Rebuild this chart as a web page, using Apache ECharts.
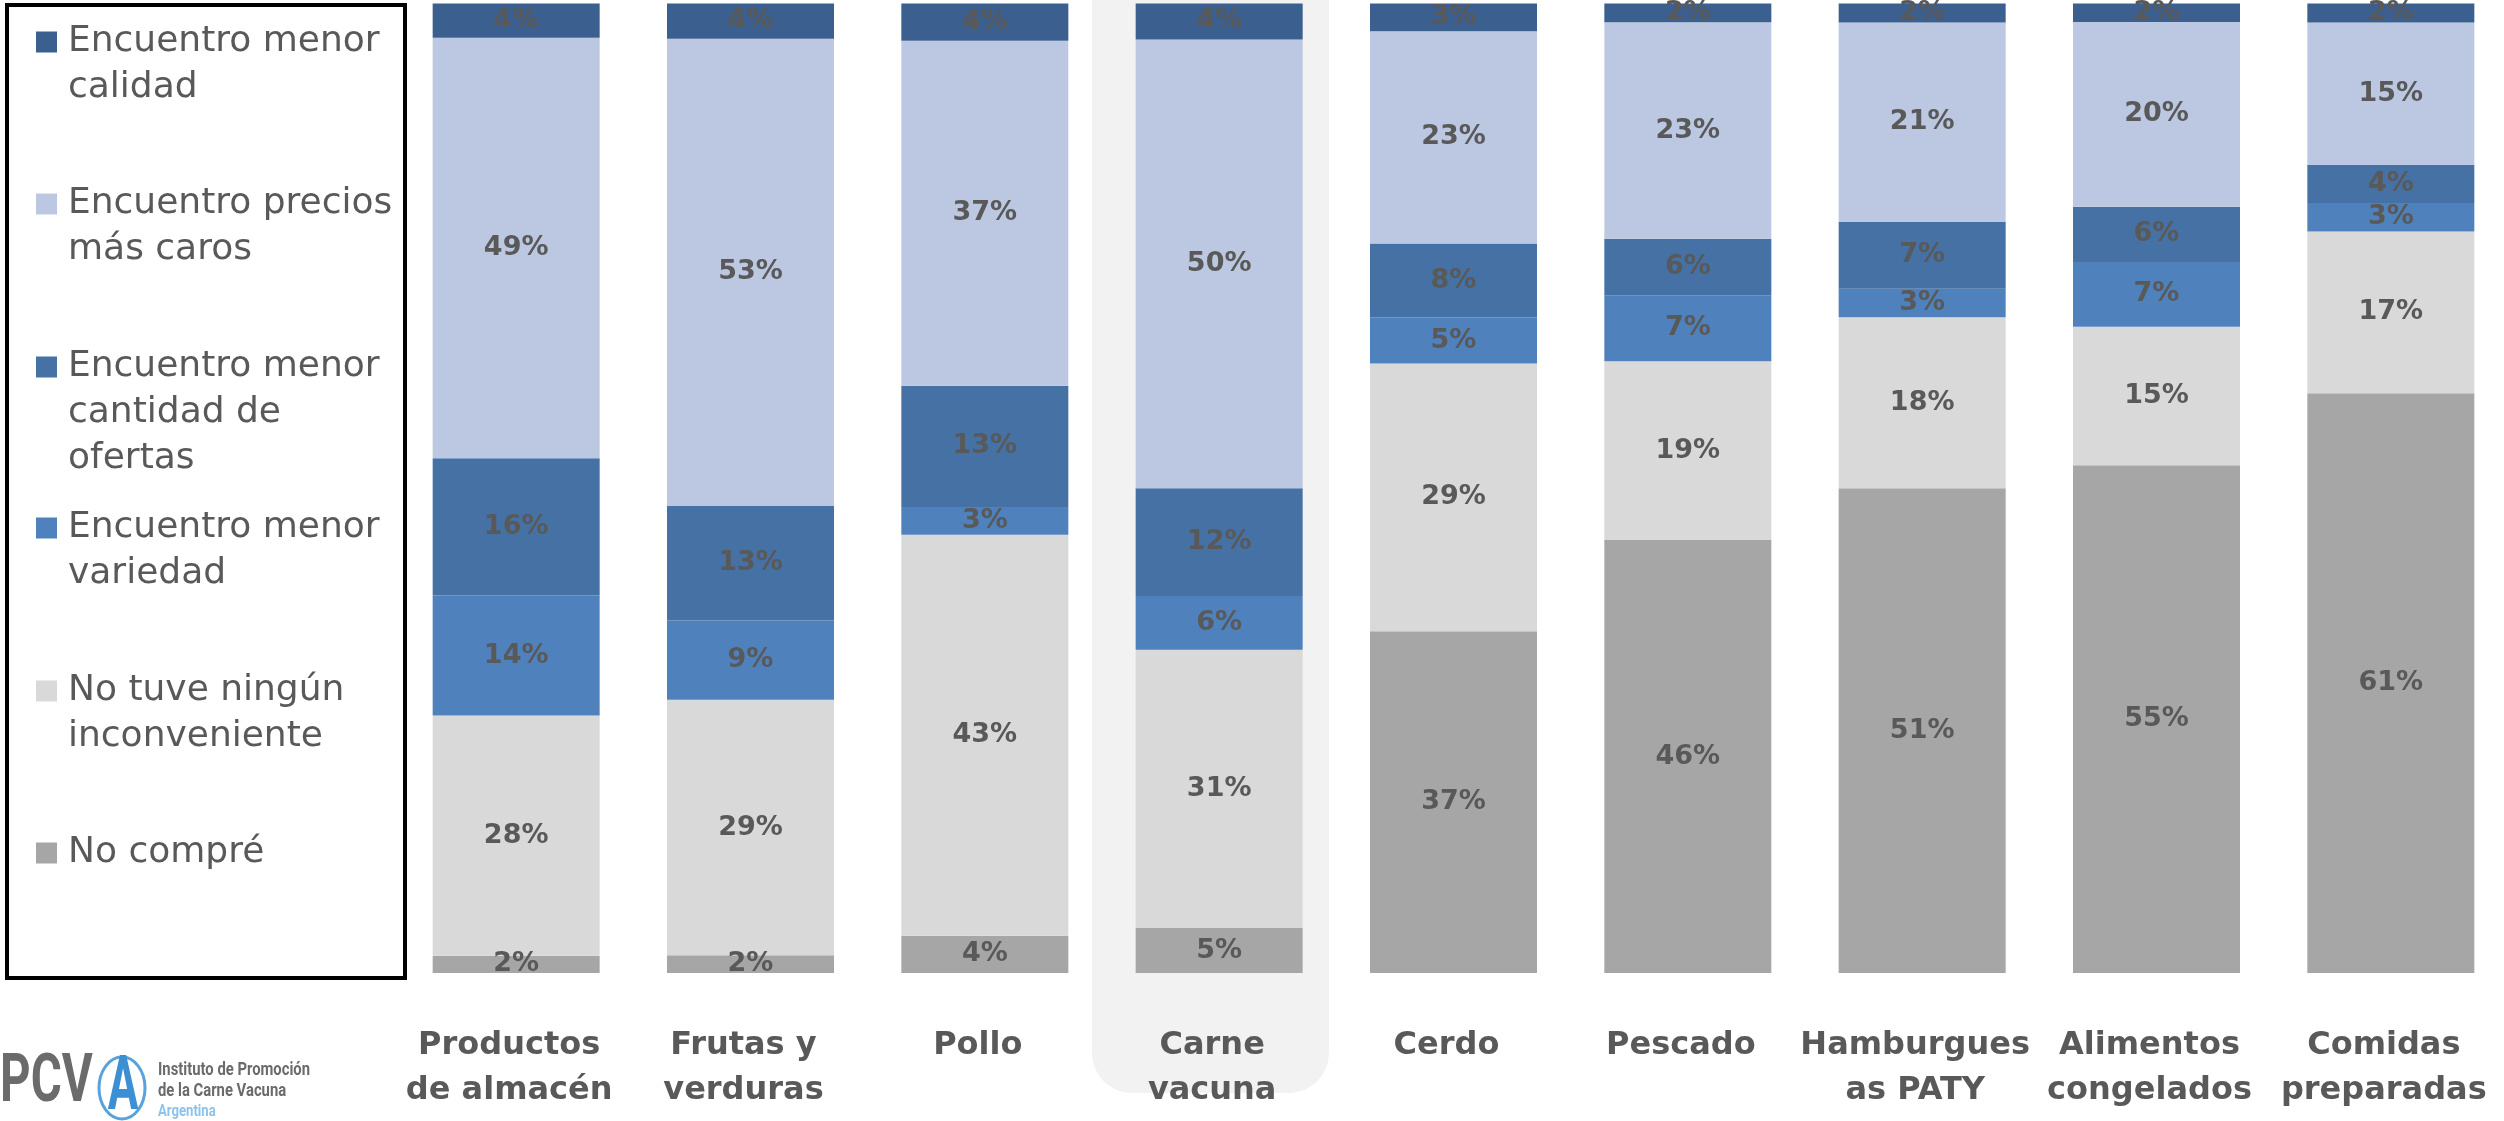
<!DOCTYPE html>
<html>
<head>
<meta charset="utf-8">
<script src="https://cdn.jsdelivr.net/npm/echarts@6/dist/echarts.min.js"></script>
<style>
html,body{margin:0;padding:0;background:#fff;}
#chart{width:2504px;height:1121px;}
</style>
</head>
<body>
<div id="chart"></div>
<script>
// ---- data ----
const categories = ['Productos\nde almacén', 'Frutas y\nverduras', 'Pollo', 'Carne\nvacuna', 'Cerdo', 'Pescado', 'Hamburgues\nas PATY', 'Alimentos\ncongelados', 'Comidas\npreparadas'];

// series listed bottom-to-top of each stack
const seriesNames = ['No compré', 'No tuve ningún inconveniente', 'Encuentro menor variedad', 'Encuentro menor cantidad de ofertas', 'Encuentro precios más caros', 'Encuentro menor calidad'];
const legendLabels = ['No compré', 'No tuve ningún\ninconveniente', 'Encuentro menor\nvariedad', 'Encuentro menor\ncantidad de\nofertas', 'Encuentro precios\nmás caros', 'Encuentro menor\ncalidad'];

const noCompre   = [2, 2, 4, 5, 37, 46, 51, 55, 61];
const noTuve     = [28, 29, 43, 31, 29, 19, 18, 15, 17];
const variedad   = [14, 9, 3, 6, 5, 7, 3, 7, 3];
const ofertas    = [16, 13, 13, 12, 8, 6, 7, 6, 4];
const precios    = [49, 53, 37, 50, 23, 23, 21, 20, 15];
const calidad    = [4, 4, 4, 4, 3, 2, 2, 2, 2];

const seriesValues = [noCompre, noTuve, variedad, ofertas, precios, calidad];
const seriesColors = ['#A6A6A6', '#D9D9D9', '#4F81BD', '#4571A5', '#BCC8E1', '#3B5F8E'];

// ---- build ----
const totals = categories.map((c, i) => seriesValues.reduce((s, arr) => s + arr[i], 0));

const series = seriesNames.map((name, si) => ({
  name: name,
  type: 'bar',
  stack: 'total',
  barWidth: 167,
  itemStyle: { color: seriesColors[si] },
  emphasis: { disabled: true },
  label: {
    show: true,
    position: 'inside',
    color: '#595959',
    fontFamily: 'DejaVu Sans',
    fontWeight: 'bold',
    fontSize: 27,
    formatter: p => seriesValues[si][p.dataIndex] + '%'
  },
  data: seriesValues[si].map((v, i) => v / totals[i] * 100)
}));

// legends (top-to-bottom order), one per item so each first line aligns with its swatch
const legendOrder = [5, 4, 3, 2, 1, 0];
const legendCenters = [42, 204, 367, 528, 691, 853];
const LH = 46;
const legends = legendOrder.map((si, k) => {
  const n = legendLabels[si].split('\n').length;
  return {
    show: true,
    orient: 'vertical',
    left: 36,
    top: legendCenters[k] - (n - 0.5) * LH,
    padding: 0,
    itemWidth: 21,
    itemHeight: 21,
    icon: 'rect',
    data: [seriesNames[si]],
    formatter: () => '\n'.repeat(n - 1) + legendLabels[si],
    textStyle: {
      fontFamily: 'DejaVu Sans',
      fontSize: 36,
      color: '#595959',
      lineHeight: LH,
      padding: [0, 0, 0, 6]
    }
  };
});

const chart = echarts.init(document.getElementById('chart'));
chart.setOption({
  animation: false,
  backgroundColor: '#ffffff',
  grid: { left: 399, top: 3.5, width: 2109, height: 969.5, outerBoundsMode: 'none', containLabel: false },
  xAxis: {
    type: 'category',
    data: categories,
    axisLine: { show: false },
    axisTick: { show: false },
    axisLabel: {
      interval: 0,
      margin: 50,
      color: '#595959',
      fontFamily: 'DejaVu Sans',
      fontWeight: 'bold',
      fontSize: 32,
      lineHeight: 45,
      padding: [0, 14, 0, 0]
    }
  },
  yAxis: { type: 'value', min: 0, max: 100, show: false },
  legend: legends,
  series: series,
  graphic: [
    { type: 'rect', z: -10, shape: { x: 1092, y: -20, width: 237, height: 1113, r: [0, 0, 40, 40] }, style: { fill: '#F2F2F2' }, silent: true },
    { type: 'rect', shape: { x: 7, y: 5, width: 398, height: 973 }, style: { fill: 'none', stroke: '#000', lineWidth: 4 }, silent: true },
    { type: 'text', x: 0, y: 1084, scaleX: 0.72, style: { x: 0, y: 0, text: 'PCV', fontFamily: 'Roboto', fontWeight: 'bold', fontSize: 66, fill: '#6b6b6b', verticalAlign: 'middle' }, silent: true },
    { type: 'ellipse', shape: { cx: 122, cy: 1088, rx: 23, ry: 31 }, style: { fill: '#fff', stroke: '#5aa2dc', lineWidth: 3 }, silent: true },
    { type: 'text', x: 123, y: 1090, scaleX: 0.6, style: { x: 0, y: 0, text: 'A', fontFamily: 'Roboto', fontWeight: 'bold', fontSize: 76, fill: '#3d8fd3', align: 'center', verticalAlign: 'middle' }, silent: true },
    { type: 'text', x: 158, y: 1070, scaleX: 0.78, style: { x: 0, y: 0, text: 'Instituto de Promoción', fontFamily: 'Roboto', fontWeight: 'bold', fontSize: 19, fill: '#6b6b6b', verticalAlign: 'middle' }, silent: true },
    { type: 'text', x: 158, y: 1091, scaleX: 0.78, style: { x: 0, y: 0, text: 'de la Carne Vacuna', fontFamily: 'Roboto', fontWeight: 'bold', fontSize: 19, fill: '#6b6b6b', verticalAlign: 'middle' }, silent: true },
    { type: 'text', x: 158, y: 1112, scaleX: 0.82, style: { x: 0, y: 0, text: 'Argentina', fontFamily: 'Roboto', fontWeight: 'bold', fontSize: 16, fill: '#8cc3ee', verticalAlign: 'middle' }, silent: true }
  ]
});
</script>
</body>
</html>
